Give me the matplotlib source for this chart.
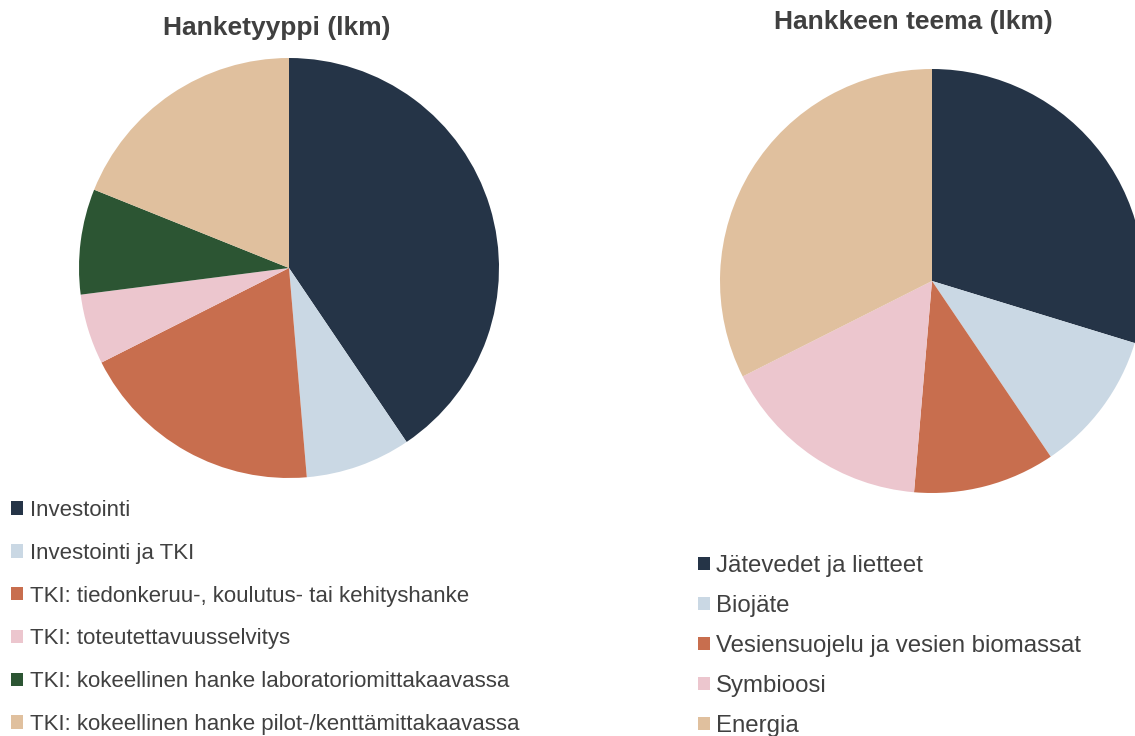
import matplotlib
matplotlib.use("Agg")
import matplotlib.pyplot as plt

plt.rcParams['font.family'] = ['Liberation Sans', 'DejaVu Sans']

# hanketyyppi (lkm)
type_labels = ["Investointi", "Investointi ja TKI",
               "TKI: tiedonkeruu-, koulutus- tai kehityshanke",
               "TKI: toteutettavuusselvitys",
               "TKI: kokeellinen hanke laboratoriomittakaavassa",
               "TKI: kokeellinen hanke pilot-/kenttämittakaavassa"]
type_counts = [15, 3, 7, 2, 3, 7]
type_colors = ["#253447", "#CAD8E4", "#C86E4E", "#ECC6CE", "#2C5533", "#E0C09E"]

# hankkeen teema (lkm)
theme_labels = ["Jätevedet ja lietteet", "Biojäte",
                "Vesiensuojelu ja vesien biomassat", "Symbioosi", "Energia"]
theme_counts = [11, 4, 4, 6, 12]
theme_colors = ["#253447", "#CAD8E4", "#C86E4E", "#ECC6CE", "#E0C09E"]

W, H = 1135, 736
txt = "#404040"
fig = plt.figure(figsize=(W / 100, H / 100), dpi=100)

def px_axes(cx, cy, r):
    # axes in pixel coords, cy measured from the top
    return fig.add_axes([(cx - r) / W, (H - cy - r) / H, 2 * r / W, 2 * r / H])

ax1 = px_axes(289, 268, 210)
w1, _ = ax1.pie(type_counts, colors=type_colors, startangle=90, counterclock=False,
                radius=1, wedgeprops=dict(linewidth=0))
ax1.set_xlim(-1, 1); ax1.set_ylim(-1, 1)
ax1.set_aspect('equal')

ax2 = px_axes(932, 281, 212)
w2, _ = ax2.pie(theme_counts, colors=theme_colors, startangle=90, counterclock=False,
                radius=1, wedgeprops=dict(linewidth=0))
ax2.set_xlim(-1, 1); ax2.set_ylim(-1, 1)
ax2.set_aspect('equal')

fig.text(277 / W, 1 - 28 / H, "Hanketyyppi (lkm)", ha='center', va='center',
         fontsize=19, fontweight='bold', color=txt)
fig.text(913 / W, 1 - 22 / H, "Hankkeen teema (lkm)", ha='center', va='center',
         fontsize=19, fontweight='bold', color=txt)

leg_kw = dict(frameon=False, borderaxespad=0, borderpad=0, labelcolor=txt)
fig.legend(w1, type_labels, loc='upper left', bbox_to_anchor=(11 / W, 1 - 500 / H),
           fontsize=16, handlelength=0.55, handleheight=0.55, handletextpad=0.3,
           labelspacing=0.98, **leg_kw)
fig.legend(w2, theme_labels, loc='upper left', bbox_to_anchor=(698 / W, 1 - 555 / H),
           fontsize=17.3, handlelength=0.51, handleheight=0.51, handletextpad=0.25,
           labelspacing=0.75, **leg_kw)

fig.savefig("out.png", dpi=100)
